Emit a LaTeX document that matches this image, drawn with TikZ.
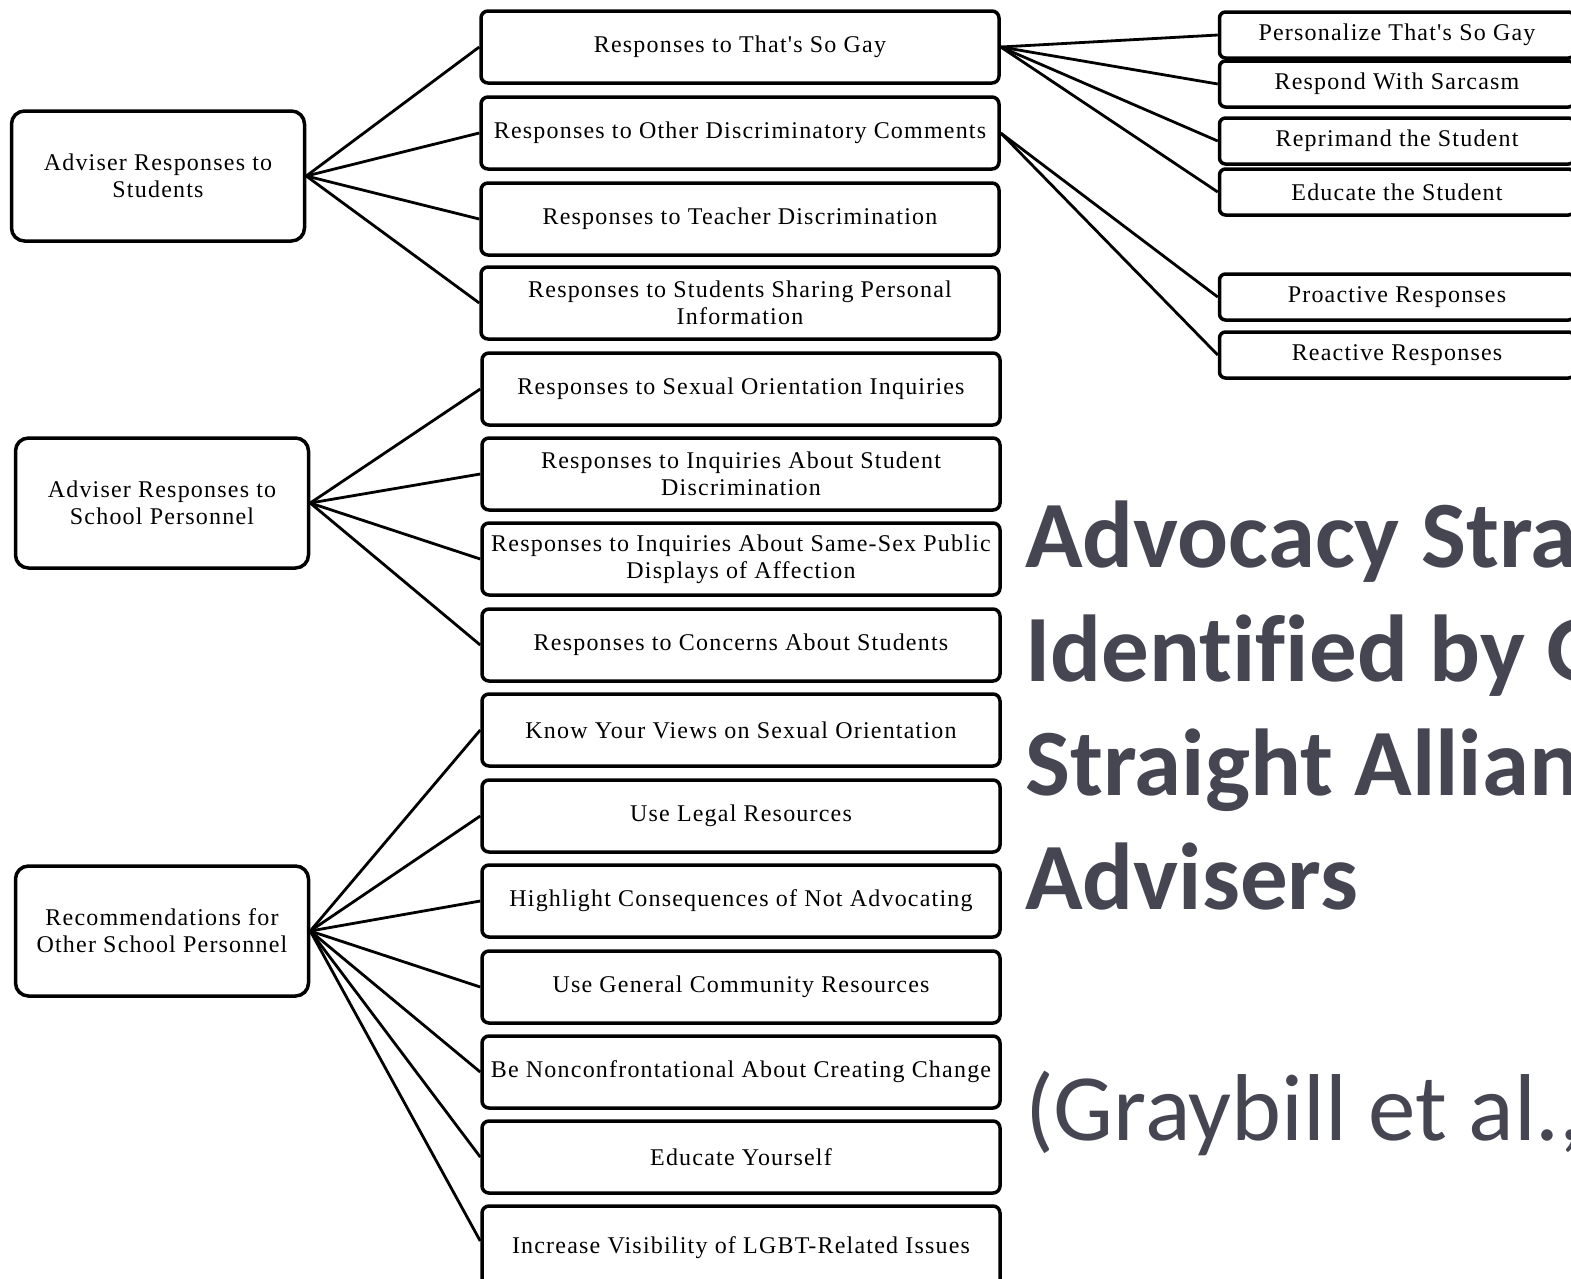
\documentclass[tikz,border=0pt]{standalone}
\usepackage{fontspec}
\newfontfamily\boxfont{Liberation Serif}[LetterSpace=5]
\newfontfamily\titlefont{Carlito}[Ligatures={CommonOff,ContextualOff}]
\definecolor{titlegray}{RGB}{69,70,81}
\tikzset{
  boxbase/.style={draw=black, line width=3.5pt, fill=white, align=center, inner sep=0pt,
    font=\boxfont\fontsize{24}{27}\selectfont},
  mbox/.style={boxbase, rounded corners=7pt, minimum width=518pt, minimum height=72pt},
  lbox/.style={boxbase, rounded corners=13pt, minimum width=293pt, minimum height=130pt},
  rbox/.style={boxbase, rounded corners=6pt, minimum width=355pt, minimum height=46pt},
  conn/.style={draw=black, line width=2.8pt, line join=round},
  ttl/.style={anchor=base west, inner sep=0pt, text=titlegray,
    font=\titlefont\fontsize{95}{114}\selectfont},
  ttlb/.style={ttl, font=\titlefont\bfseries\fontsize{95}{114}\selectfont},
}
\begin{document}
\begin{tikzpicture}[x=1pt,y=-1pt]
\clip (0,0) rectangle (1571,1278);
\fill[white] (0,0) rectangle (1571,1278);

% left boxes
\node[lbox] (l1) at (158,176) {Adviser Responses to\\Students};
\node[lbox] (l2) at (162,503) {Adviser Responses to\\School Personnel};
\node[lbox] (l3) at (162,931) {Recommendations for\\Other School Personnel};

% middle boxes
\node[mbox] (m1)  at (740,47)   {Responses to That's So Gay};
\node[mbox] (m2)  at (740,133)  {Responses to Other Discriminatory Comments};
\node[mbox] (m3)  at (740,219)  {Responses to Teacher Discrimination};
\node[mbox] (m4)  at (740,303)  {Responses to Students Sharing Personal\\Information};
\node[mbox] (m5)  at (741,389)  {Responses to Sexual Orientation Inquiries};
\node[mbox] (m6)  at (741,474)  {Responses to Inquiries About Student\\Discrimination};
\node[mbox] (m7)  at (741,559)  {Responses to Inquiries About Same-Sex Public\\Displays of Affection};
\node[mbox] (m8)  at (741,645)  {Responses to Concerns About Students};
\node[mbox] (m9)  at (741,730)  {Know Your Views on Sexual Orientation};
\node[mbox] (m10) at (741,816)  {Use Legal Resources};
\node[mbox] (m11) at (741,901)  {Highlight Consequences of Not Advocating};
\node[mbox] (m12) at (741,987)  {Use General Community Resources};
\node[mbox] (m13) at (741,1072) {Be Nonconfrontational About Creating Change};
\node[mbox] (m14) at (741,1157) {Educate Yourself};
\node[mbox, minimum height=92pt] (m15) at (741,1252) {\raisebox{13pt}{Increase Visibility of LGBT-Related Issues}};

% right boxes
\node[rbox] (r1) at (1397,35)  {Personalize That's So Gay};
\node[rbox] (r2) at (1397,84)  {Respond With Sarcasm};
\node[rbox] (r3) at (1397,141) {Reprimand the Student};
\node[rbox] (r4) at (1397,192) {Educate the Student};
\node[rbox] (r5) at (1397,297) {Proactive Responses};
\node[rbox] (r6) at (1397,355) {Reactive Responses};

% connectors
\foreach \m in {m1,m2,m3,m4} \draw[conn] (l1.east) -- (\m.west);
\foreach \m in {m5,m6,m7,m8} \draw[conn] (l2.east) -- (\m.west);
\foreach \m in {m9,m10,m11,m12,m13,m14} \draw[conn] (l3.east) -- (\m.west);
\draw[conn] (l3.east) -- ([yshift=11pt]m15.west);
\foreach \r in {r1,r2,r3,r4} \draw[conn] (m1.east) -- (\r.west);
\foreach \r in {r5,r6} \draw[conn] (m2.east) -- (\r.west);

% title
\node[ttlb] (t1) at (1025,567) {Advocacy Stra};
\node[ttlb] (t2) at (1025,681) {Ident\kern0pt if\kern0pt ied by G};
\node[ttlb] (t3) at (1025,795) {Straight Allian};
\node[ttlb] (t4) at (1025,909) {Advisers};
\node[ttl] (cite) at (1025,1140) {(Graybill et al.,};
\end{tikzpicture}
\end{document}
